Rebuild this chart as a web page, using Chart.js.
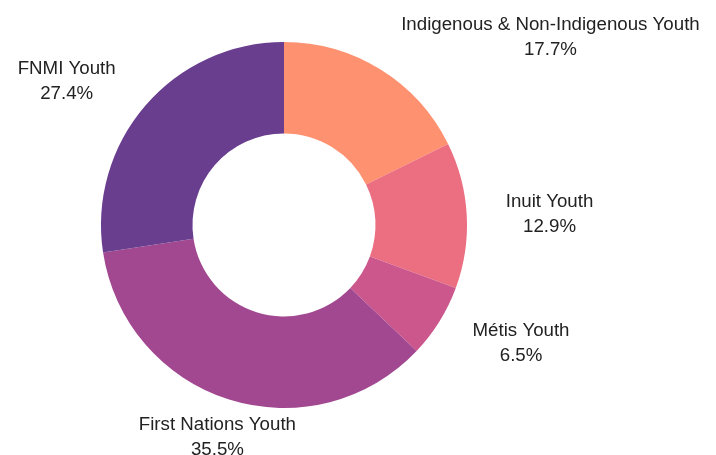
<!DOCTYPE html>
<html lang="en">
<head>
  <meta charset="UTF-8" />
  <title>Youth share</title>
  <script src="https://cdn.jsdelivr.net/npm/chart.js"></script>
  <style>
    body { margin: 0; background: #fff; }
    canvas { display: block; }
  </style>
</head>
<body>
  <canvas id="donut" width="716" height="455"></canvas>

  <script>
    const categories = [
      "Indigenous & Non-Indigenous Youth",
      "Inuit Youth",
      "Métis Youth",
      "First Nations Youth",
      "FNMI Youth"
    ];
    const shares = [17.7, 12.9, 6.5, 35.5, 27.4];
    const colors = ["#fe9170", "#eb6f80", "#cc578c", "#a14891", "#6a3e8f"];

    // labels outside each slice, text centred in its block
    const outsideLabels = {
      id: "outsideLabels",
      afterDraw(chart) {
        const ctx = chart.ctx;
        const meta = chart.getDatasetMeta(0);
        ctx.save();
        ctx.font = "18.7px 'Liberation Sans', Arial, sans-serif";
        ctx.fillStyle = "#222";
        ctx.textBaseline = "middle";
        ctx.textAlign = "center";
        const lineH = 25;
        meta.data.forEach((arc, i) => {
          const p = arc.getProps(["x", "y", "startAngle", "endAngle", "outerRadius"], true);
          const a = (p.startAngle + p.endAngle) / 2;
          const R = p.outerRadius + 39;
          const ax = p.x + R * Math.cos(a);
          const ay = p.y + R * Math.sin(a) + 1;
          const lines = [categories[i], shares[i].toFixed(1) + "%"];
          const w = Math.max(...lines.map(l => ctx.measureText(l).width));
          let cx = ax;
          if (Math.cos(a) > 0.4) cx = ax + w / 2;
          else if (Math.cos(a) < -0.4) cx = ax - w / 2;
          lines.forEach((l, k) => {
            ctx.fillText(l, cx, ay + (k - 0.5) * lineH);
          });
        });
        ctx.restore();
      }
    };

    new Chart(document.getElementById("donut"), {
      type: "doughnut",
      data: {
        labels: categories,
        datasets: [{
          data: shares,
          backgroundColor: colors,
          borderWidth: 0
        }]
      },
      options: {
        responsive: false,
        animation: false,
        cutout: "50%",
        layout: { padding: { left: 101, right: 249, top: 42, bottom: 47 } },
        plugins: {
          legend: { display: false },
          tooltip: { enabled: false }
        }
      },
      plugins: [outsideLabels]
    });
  </script>
</body>
</html>
